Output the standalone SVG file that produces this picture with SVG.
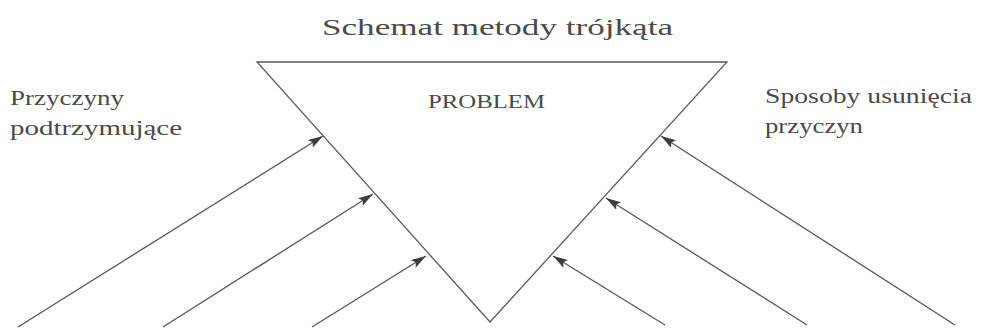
<svg xmlns="http://www.w3.org/2000/svg" width="982" height="329" viewBox="0 0 982 329">
<style>
  .t { font-family: "Liberation Serif", "DejaVu Serif", serif; fill: #4a4a4a; }
  .edge { stroke: #5a5a5a; stroke-width: 1.3; fill: none; }
  .conn { stroke: #555; stroke-width: 1.3; fill: none; marker-end: url(#ah); }
</style>
<defs>
  <marker id="ah" markerUnits="userSpaceOnUse" markerWidth="16" markerHeight="10" refX="15" refY="4.5" orient="auto">
    <path d="M0,0 L15,4.5 L0,9 L3,4.5 z" fill="#3c3c3c"/>
  </marker>
</defs>
<rect width="982" height="329" fill="#ffffff"/>
<g id="title">
  <text class="t" x="322" y="35" font-size="24" textLength="351" lengthAdjust="spacingAndGlyphs">Schemat metody trójkąta</text>
</g>
<g id="problem">
  <polygon class="edge" points="257,62 727,62 490,322"/>
  <text class="t" x="428" y="108" font-size="19" textLength="117" lengthAdjust="spacingAndGlyphs">PROBLEM</text>
</g>
<g id="przyczyny">
  <text class="t" x="10" y="105" font-size="20" textLength="114" lengthAdjust="spacingAndGlyphs">Przyczyny</text>
  <text class="t" x="10" y="135" font-size="20" textLength="172" lengthAdjust="spacingAndGlyphs">podtrzymujące</text>
</g>
<g id="sposoby">
  <text class="t" x="765" y="103" font-size="20" textLength="207" lengthAdjust="spacingAndGlyphs">Sposoby usunięcia</text>
  <text class="t" x="765" y="133" font-size="20" textLength="98" lengthAdjust="spacingAndGlyphs">przyczyn</text>
</g>
<g id="connectors">
  <line class="conn" x1="18" y1="327" x2="323" y2="136"/>
  <line class="conn" x1="163" y1="327" x2="373" y2="194"/>
  <line class="conn" x1="312" y1="327" x2="426" y2="256"/>
  <line class="conn" x1="955" y1="325" x2="661" y2="136"/>
  <line class="conn" x1="807" y1="325" x2="606" y2="198"/>
  <line class="conn" x1="665" y1="325" x2="553" y2="256"/>
</g>
</svg>
